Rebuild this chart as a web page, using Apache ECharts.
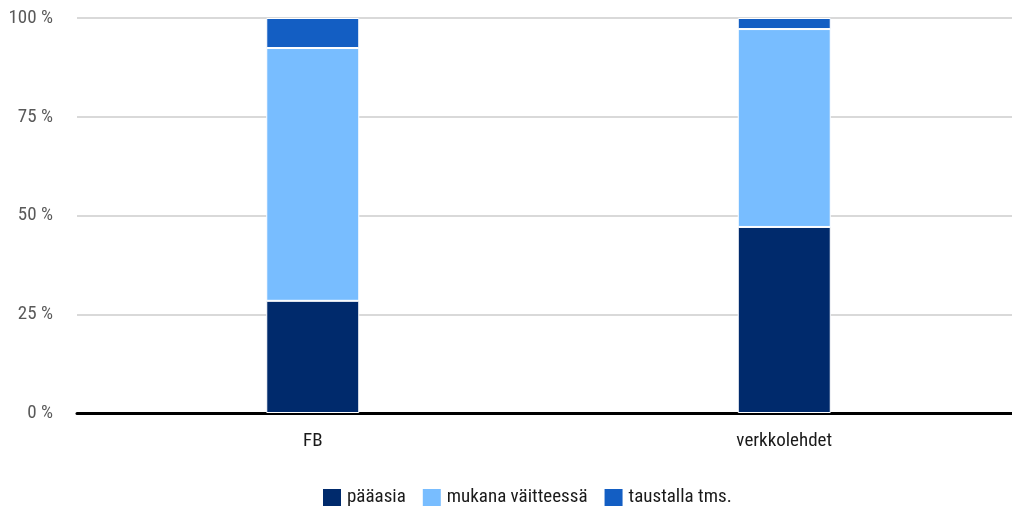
<!DOCTYPE html>
<html>
<head>
<meta charset="utf-8">
<script src="https://cdn.jsdelivr.net/npm/echarts@6/dist/echarts.min.js"></script>
<style>
  html, body { margin: 0; padding: 0; background: #fff; }
  #chart { width: 1012px; height: 511px; }
</style>
</head>
<body>
<div id="chart"></div>
<script>
// data
const categories = ['FB', 'verkkolehdet'];
const seriesNames = ['pääasia', 'mukana väitteessä', 'taustalla tms.'];
const paaasia = [28.4, 47.1];
const mukana = [64.0, 50.1];
const taustalla = [7.6, 2.8];
const yTicks = [0, 25, 50, 75, 100];

const colors = ['#002a6c', '#78bdff', '#135ec3'];
const font = '"Roboto Condensed", sans-serif';

const chart = echarts.init(document.getElementById('chart'), null, { renderer: 'canvas' });

const mkSeries = (name, data, i) => ({
  name: name,
  type: 'bar',
  stack: 'total',
  barWidth: 93,
  data: data,
  itemStyle: { color: colors[i], borderColor: '#fff', borderWidth: 1 }
});

chart.setOption({
  animation: false,
  textStyle: { fontFamily: font },
  grid: { left: 77, width: 943, top: 18, bottom: 98, outerBoundsMode: 'none', containLabel: false },
  legend: {
    top: 482,
    left: 316,
    itemWidth: 20,
    itemHeight: 19,
    itemGap: 15,
    icon: 'rect',
    textStyle: { fontFamily: font, fontSize: 19, color: '#1a1a1a' },
    data: seriesNames
  },
  xAxis: {
    type: 'category',
    data: categories,
    axisLine: { lineStyle: { color: '#000', width: 3 } },
    axisTick: { show: false },
    axisLabel: { fontFamily: font, fontSize: 19, color: '#1a1a1a', margin: 19 }
  },
  yAxis: {
    type: 'value',
    min: yTicks[0],
    max: yTicks[yTicks.length - 1],
    interval: 25,
    axisLine: { show: false },
    axisTick: { show: false },
    splitLine: { lineStyle: { color: '#d9d9d9', width: 2 } },
    axisLabel: {
      fontFamily: font, fontSize: 19, color: '#595959', margin: 24,
      formatter: v => v + ' %'
    }
  },
  series: [
    mkSeries(seriesNames[0], paaasia, 0),
    mkSeries(seriesNames[1], mukana, 1),
    mkSeries(seriesNames[2], taustalla, 2)
  ]
});
</script>
</body>
</html>
